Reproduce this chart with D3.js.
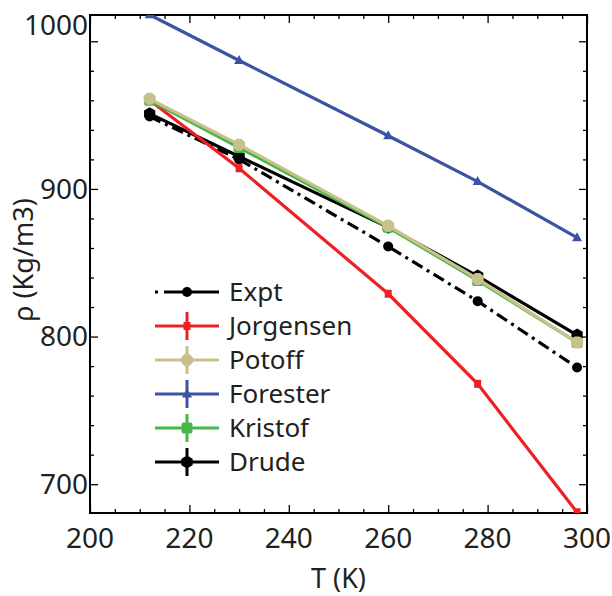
<!DOCTYPE html>
<html>
<head>
<meta charset="utf-8">
<script src="https://cdn.jsdelivr.net/npm/d3@7"></script>
<style>
  body { margin: 0; background: #fff; }
  svg text { font-family: "Noto Sans", "Open Sans", sans-serif; fill: #231f20; }
</style>
</head>
<body>
<div id="chart"></div>
<script>
// temperatures (K)
const temps = [212, 230, 260, 278, 298];

// densities (kg/m3)
const expt      = [949, 920, 861, 824, 779];
const jorgensen = [960, 914, 829, 768, 681];
const potoff    = [961, 930, 875, 839, 796];
const forester  = [1018, 987, 936, 905, 867];
const kristof   = [960, 928, 874, 838, 796];
const drude     = [951, 922, 874, 841, 801];

const xTicks = [200, 220, 240, 260, 280, 300];
const yTicks = [700, 800, 900, 1000];

const series = [
  { name: "Expt",      values: expt,      color: "#000000", marker: "circle",   dash: "12,5,3,5", bar: false },
  { name: "Drude",     values: drude,     color: "#000000", marker: "hexagon",  dash: null, bar: true },
  { name: "Jorgensen", values: jorgensen, color: "#ed2024", marker: "square",   dash: null, bar: true },
  { name: "Kristof",   values: kristof,   color: "#47b649", marker: "rsquare",  dash: null, bar: true },
  { name: "Potoff",    values: potoff,    color: "#c8c18b", marker: "octagon",  dash: null, bar: true },
  { name: "Forester",  values: forester,  color: "#3a53a4", marker: "triangle", dash: null, bar: true }
];
const legendOrder = ["Expt", "Jorgensen", "Potoff", "Forester", "Kristof", "Drude"];

const width = 612, height = 596;
const margin = { left: 90, right: 25, top: 15, bottom: 83 };

const svg = d3.select("#chart").append("svg")
  .attr("width", width)
  .attr("height", height);

const x = d3.scaleLinear().domain([200, 300]).range([margin.left, width - margin.right]);
const y = d3.scaleLinear().domain([680.5, 1017.8]).range([height - margin.bottom, margin.top]);

// clip for the data
svg.append("clipPath").attr("id", "clip")
  .append("rect")
  .attr("x", margin.left).attr("y", margin.top)
  .attr("width", x.range()[1] - margin.left)
  .attr("height", y.range()[0] - margin.top);

// marker paths, centred on 0,0
function markerPath(type) {
  const p = d3.path();
  if (type === "circle") { p.arc(0, 0, 5, 0, 2 * Math.PI); }
  else if (type === "hexagon") {
    for (let i = 0; i < 6; i++) {
      const a = Math.PI / 6 + i * Math.PI / 3;
      i ? p.lineTo(6.5 * Math.cos(a), 6.5 * Math.sin(a)) : p.moveTo(6.5 * Math.cos(a), 6.5 * Math.sin(a));
    }
    p.closePath();
  }
  else if (type === "octagon") {
    for (let i = 0; i < 8; i++) {
      const a = Math.PI / 8 + i * Math.PI / 4;
      i ? p.lineTo(6.5 * Math.cos(a), 6.5 * Math.sin(a)) : p.moveTo(6.5 * Math.cos(a), 6.5 * Math.sin(a));
    }
    p.closePath();
  }
  else if (type === "square") { p.rect(-3.5, -4, 7, 8); }
  else if (type === "rsquare") {
    const r = 2, s = 5.5;
    p.moveTo(-s + r, -s); p.lineTo(s - r, -s); p.quadraticCurveTo(s, -s, s, -s + r);
    p.lineTo(s, s - r); p.quadraticCurveTo(s, s, s - r, s);
    p.lineTo(-s + r, s); p.quadraticCurveTo(-s, s, -s, s - r);
    p.lineTo(-s, -s + r); p.quadraticCurveTo(-s, -s, -s + r, -s);
    p.closePath();
  }
  else if (type === "triangle") { p.moveTo(0, -5.5); p.lineTo(5, 3.5); p.lineTo(-5, 3.5); p.closePath(); }
  return p.toString();
}

// axes: ticks point inward, mirrored on top and right
const xMinor = d3.range(200, 301, 5).filter(v => v % 20 !== 0);
const yMinor = d3.range(700, 1017, 20).filter(v => v % 100 !== 0);
const bottomY = y.range()[0], rightX = x.range()[1];

function tickGroup(axis, tr) {
  const g = svg.append("g").attr("transform", tr).call(axis);
  g.select(".domain").remove();
  g.selectAll("line").attr("stroke", "#000").attr("stroke-width", 1.3);
  return g;
}
tickGroup(d3.axisBottom(x).tickValues(xTicks).tickSize(-8).tickFormat(""), `translate(0,${bottomY})`);
tickGroup(d3.axisBottom(x).tickValues(xMinor).tickSize(-4).tickFormat(""), `translate(0,${bottomY})`);
tickGroup(d3.axisTop(x).tickValues(xTicks).tickSize(-8).tickFormat(""), `translate(0,${margin.top})`);
tickGroup(d3.axisTop(x).tickValues(xMinor).tickSize(-4).tickFormat(""), `translate(0,${margin.top})`);
tickGroup(d3.axisLeft(y).tickValues(yTicks).tickSize(-8).tickFormat(""), `translate(${margin.left},0)`);
tickGroup(d3.axisLeft(y).tickValues(yMinor).tickSize(-4).tickFormat(""), `translate(${margin.left},0)`);
tickGroup(d3.axisRight(y).tickValues(yTicks).tickSize(-8).tickFormat(""), `translate(${rightX},0)`);
tickGroup(d3.axisRight(y).tickValues(yMinor).tickSize(-4).tickFormat(""), `translate(${rightX},0)`);

// frame
svg.append("rect")
  .attr("x", margin.left).attr("y", margin.top)
  .attr("width", rightX - margin.left).attr("height", bottomY - margin.top)
  .attr("fill", "none").attr("stroke", "#000").attr("stroke-width", 2);

// tick labels
svg.append("g").selectAll("text")
  .data(xTicks).enter().append("text")
  .attr("x", d => x(d)).attr("y", bottomY + 35)
  .attr("text-anchor", "middle")
  .style("font-size", "28px")
  .text(d => d);

svg.append("g").selectAll("text")
  .data(yTicks).enter().append("text")
  .attr("x", margin.left - 2)
  // the top label sits flush with the frame in the original
  .attr("y", d => d === 1000 ? margin.top + 10 : y(d))
  .attr("dy", "0.35em")
  .attr("text-anchor", "end")
  .style("font-size", "28px")
  .text(d => d);

// axis titles
svg.append("text")
  .attr("x", (margin.left + rightX) / 2).attr("y", 588)
  .attr("text-anchor", "middle")
  .style("font-size", "27px")
  .text("T (K)");

svg.append("text")
  .attr("transform", "translate(33,260) rotate(-90)")
  .attr("text-anchor", "middle")
  .style("font-size", "27px")
  .text("ρ (Kg/m3)");

// data
const plot = svg.append("g").attr("clip-path", "url(#clip)");
const line = d3.line().x((d, i) => x(temps[i])).y(d => y(d));

series.forEach(s => {
  const g = plot.append("g");
  g.append("path")
    .datum(s.values)
    .attr("d", line)
    .attr("fill", "none")
    .attr("stroke", s.color)
    .attr("stroke-width", 3.2)
    .attr("stroke-dasharray", s.dash);
  g.selectAll("path.m")
    .data(s.values).enter().append("path")
    .attr("class", "m")
    .attr("transform", (d, i) => `translate(${x(temps[i])},${y(d)})`)
    .attr("d", markerPath(s.marker))
    .attr("fill", s.color);
});

// legend
const legend = svg.append("g");
legendOrder.forEach((name, i) => {
  const s = series.find(d => d.name === name);
  const ly = 292 + i * 34;
  const g = legend.append("g").attr("transform", `translate(0,${ly})`);
  g.append("line")
    .attr("x1", 155).attr("x2", 219)
    .attr("stroke", s.color).attr("stroke-width", 3.2)
    .attr("stroke-dasharray", s.name === "Expt" ? "3,6,70" : null);
  if (s.bar) {
    g.append("line")
      .attr("x1", 187).attr("x2", 187).attr("y1", -14).attr("y2", 14)
      .attr("stroke", s.color).attr("stroke-width", 3);
  }
  g.append("path")
    .attr("transform", "translate(187,0)")
    .attr("d", markerPath(s.marker))
    .attr("fill", s.color);
  g.append("text")
    .attr("x", 229).attr("y", 0).attr("dy", "0.35em")
    .style("font-size", "26px")
    .text(s.name);
});
</script>
</body>
</html>
